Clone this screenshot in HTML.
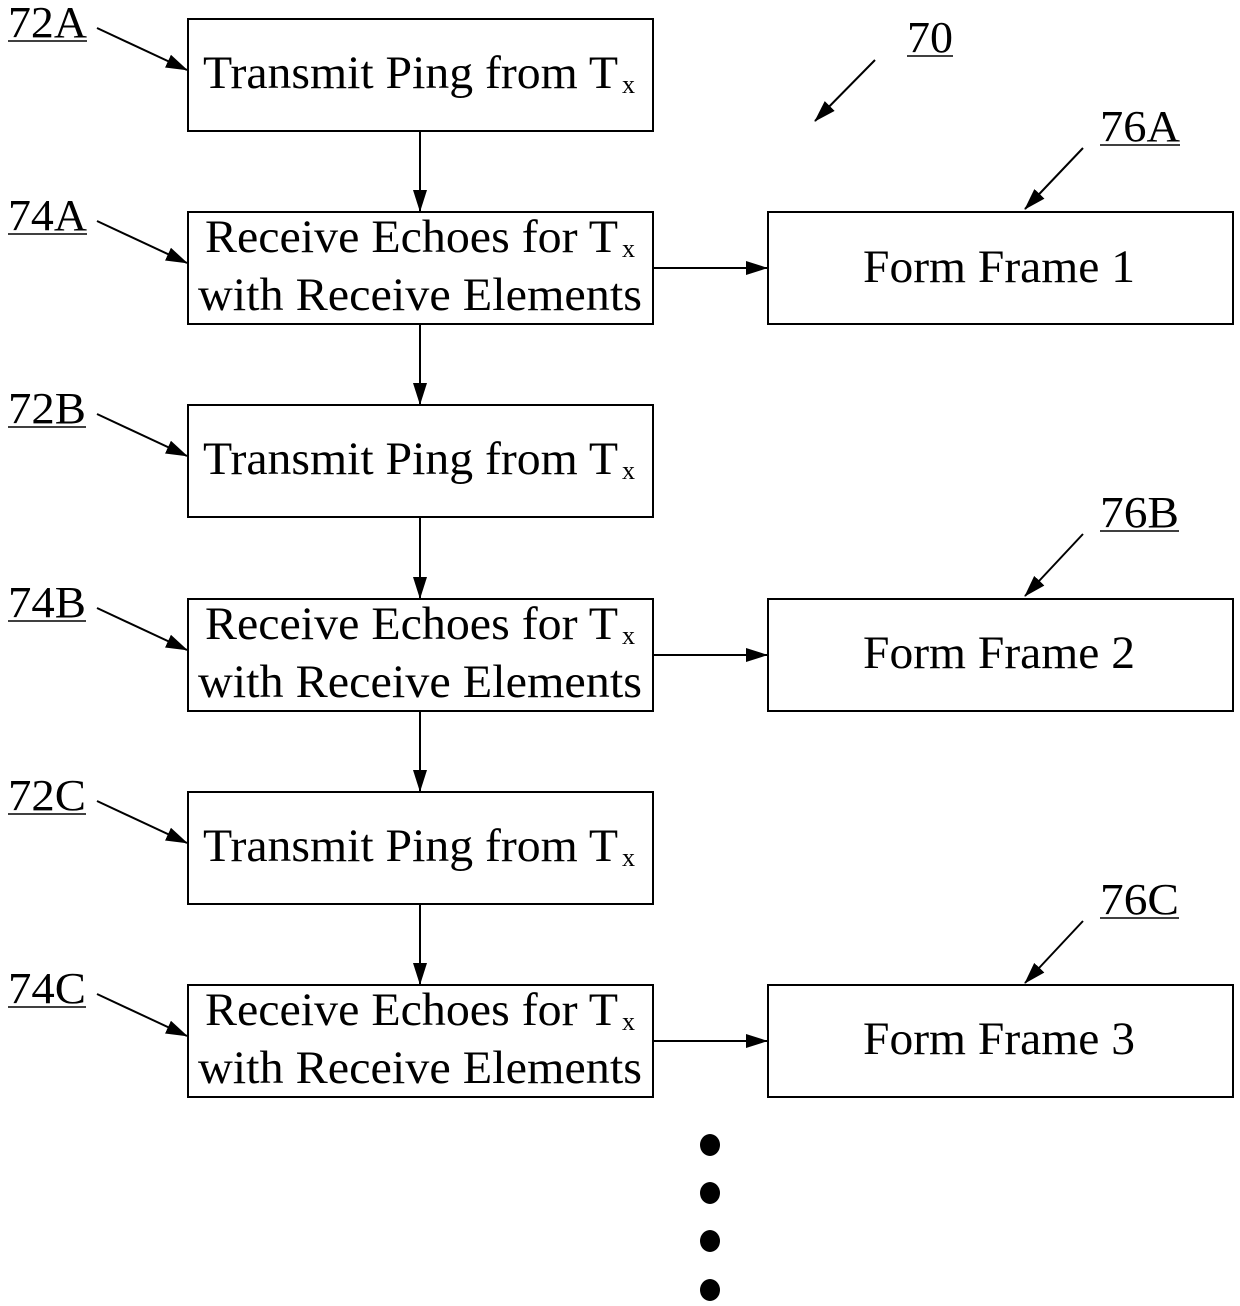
<!DOCTYPE html>
<html><head><meta charset="utf-8"><style>html,body{margin:0;padding:0;background:#fff}svg{display:block}</style></head>
<body>
<svg width="1240" height="1306" viewBox="0 0 1240 1306" xmlns="http://www.w3.org/2000/svg" font-family="Liberation Serif, serif" fill="#000">
<defs><marker id="a" markerWidth="22" markerHeight="16" refX="21" refY="8" orient="auto" markerUnits="userSpaceOnUse"><path d="M0,1 L22,8 L0,15 z"/></marker></defs>
<g stroke="#000" stroke-width="2" fill="none">
<rect x="188" y="19" width="465" height="112"/>
<rect x="188" y="212" width="465" height="112"/>
<rect x="188" y="405" width="465" height="112"/>
<rect x="188" y="599" width="465" height="112"/>
<rect x="188" y="792" width="465" height="112"/>
<rect x="188" y="985" width="465" height="112"/>
<rect x="768" y="212" width="465" height="112"/>
<rect x="768" y="599" width="465" height="112"/>
<rect x="768" y="985" width="465" height="112"/>
<g marker-end="url(#a)">
<line x1="420" y1="131" x2="420" y2="211"/>
<line x1="420" y1="324" x2="420" y2="404"/>
<line x1="420" y1="517" x2="420" y2="598"/>
<line x1="420" y1="711" x2="420" y2="791"/>
<line x1="420" y1="904" x2="420" y2="984"/>
<line x1="653" y1="268" x2="767" y2="268"/>
<line x1="653" y1="655" x2="767" y2="655"/>
<line x1="653" y1="1041" x2="767" y2="1041"/>
<line x1="97" y1="28" x2="187" y2="70"/>
<line x1="97" y1="221" x2="187" y2="263"/>
<line x1="97" y1="414" x2="187" y2="456"/>
<line x1="97" y1="608" x2="187" y2="650"/>
<line x1="97" y1="801" x2="187" y2="843"/>
<line x1="97" y1="994" x2="187" y2="1036"/>
<line x1="875" y1="60" x2="815" y2="121"/>
<line x1="1083" y1="148" x2="1025" y2="209"/>
<line x1="1083" y1="534" x2="1025" y2="596"/>
<line x1="1083" y1="921" x2="1025" y2="983"/>
</g>
<g stroke-width="1.5">
<line x1="8" y1="41" x2="87" y2="41"/><line x1="8" y1="234" x2="87" y2="234"/>
<line x1="8" y1="427" x2="86" y2="427"/><line x1="8" y1="621" x2="86" y2="621"/>
<line x1="8" y1="814" x2="86" y2="814"/><line x1="8" y1="1007" x2="86" y2="1007"/>
<line x1="907" y1="56" x2="953" y2="56"/><line x1="1100" y1="145" x2="1180" y2="145"/>
<line x1="1100" y1="531" x2="1179" y2="531"/><line x1="1100" y1="918" x2="1179" y2="918"/>
</g>
</g>
<g font-size="47">
<text x="203" y="88" textLength="415" lengthAdjust="spacingAndGlyphs">Transmit Ping from T</text>
<text x="203" y="474" textLength="415" lengthAdjust="spacingAndGlyphs">Transmit Ping from T</text>
<text x="203" y="861" textLength="415" lengthAdjust="spacingAndGlyphs">Transmit Ping from T</text>
<text x="205" y="252" textLength="413" lengthAdjust="spacingAndGlyphs">Receive Echoes for T</text>
<text x="198" y="310" textLength="444" lengthAdjust="spacingAndGlyphs">with Receive Elements</text>
<text x="205" y="639" textLength="413" lengthAdjust="spacingAndGlyphs">Receive Echoes for T</text>
<text x="198" y="697" textLength="444" lengthAdjust="spacingAndGlyphs">with Receive Elements</text>
<text x="205" y="1025" textLength="413" lengthAdjust="spacingAndGlyphs">Receive Echoes for T</text>
<text x="198" y="1083" textLength="444" lengthAdjust="spacingAndGlyphs">with Receive Elements</text>
<text x="863" y="282" textLength="272" lengthAdjust="spacingAndGlyphs">Form Frame 1</text>
<text x="863" y="668" textLength="272" lengthAdjust="spacingAndGlyphs">Form Frame 2</text>
<text x="863" y="1054" textLength="272" lengthAdjust="spacingAndGlyphs">Form Frame 3</text>
</g>
<g font-size="26">
<text x="622" y="93">x</text><text x="622" y="479">x</text><text x="622" y="866">x</text>
<text x="622" y="257">x</text><text x="622" y="644">x</text><text x="622" y="1030">x</text>
</g>
<g font-size="44">
<text x="8" y="37" textLength="79" lengthAdjust="spacingAndGlyphs">72A</text>
<text x="8" y="230" textLength="79" lengthAdjust="spacingAndGlyphs">74A</text>
<text x="8" y="423" textLength="78" lengthAdjust="spacingAndGlyphs">72B</text>
<text x="8" y="617" textLength="78" lengthAdjust="spacingAndGlyphs">74B</text>
<text x="8" y="810" textLength="78" lengthAdjust="spacingAndGlyphs">72C</text>
<text x="8" y="1003" textLength="78" lengthAdjust="spacingAndGlyphs">74C</text>
<text x="907" y="52" textLength="46" lengthAdjust="spacingAndGlyphs">70</text>
<text x="1100" y="141" textLength="80" lengthAdjust="spacingAndGlyphs">76A</text>
<text x="1100" y="527" textLength="79" lengthAdjust="spacingAndGlyphs">76B</text>
<text x="1100" y="914" textLength="79" lengthAdjust="spacingAndGlyphs">76C</text>
</g>
<ellipse cx="710" cy="1145" rx="10" ry="11"/>
<ellipse cx="710" cy="1193" rx="10" ry="11"/>
<ellipse cx="710" cy="1241" rx="10" ry="11"/>
<ellipse cx="710" cy="1290" rx="10" ry="11"/>
</svg>
</body></html>
